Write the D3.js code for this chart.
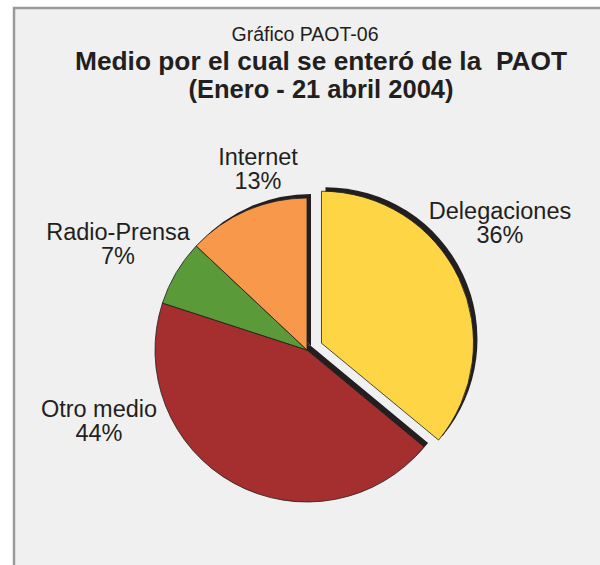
<!DOCTYPE html>
<html>
<head>
<meta charset="utf-8">
<script src="https://cdn.jsdelivr.net/npm/d3@7"></script>
<style>
  body { margin: 0; background: #fff; }
  text { font-family: "Liberation Sans", Arial, sans-serif; fill: #231f20; }
</style>
</head>
<body>
<div id="chart"></div>
<script>
// data
var categories = ["Delegaciones", "Otro medio", "Radio-Prensa", "Internet"];
var values = [36, 44, 7, 13];
var colors = ["#fdd545", "#a52e2e", "#5a9a38", "#f7984a"];
// label anchor points (centre x, baseline of first line)
var labelX = [500, 99, 118, 258];
var labelY = [219, 417, 240, 165];

var width = 600, height = 565;
var cx = 307, cy = 350, radius = 152;
var explode = 16;

var svg = d3.select("#chart").append("svg")
    .attr("width", width)
    .attr("height", height);

// panel
svg.append("rect")
    .attr("x", 14).attr("y", 8)
    .attr("width", width).attr("height", height)
    .attr("fill", "#f0f0f0")
    .attr("stroke", "#9a9a9a")
    .attr("stroke-width", 2.5);

// titles
svg.append("text")
    .attr("x", 305).attr("y", 41)
    .attr("text-anchor", "middle")
    .attr("font-size", "19.5px")
    .text("Gráfico PAOT-06");
svg.append("text")
    .attr("x", 321).attr("y", 70)
    .attr("text-anchor", "middle")
    .attr("font-size", "26.3px")
    .attr("font-weight", "bold")
    .style("white-space", "pre")
    .text("Medio por el cual se enteró de la  PAOT");
svg.append("text")
    .attr("x", 321).attr("y", 98)
    .attr("text-anchor", "middle")
    .attr("font-size", "25.5px")
    .attr("font-weight", "bold")
    .text("(Enero - 21 abril 2004)");

var data = categories.map(function(c, i) {
    return {name: c, value: values[i], color: colors[i], lx: labelX[i], ly: labelY[i]};
});

var pie = d3.pie()
    .sort(null)
    .value(function(d) { return d.value; });

var arc = d3.arc()
    .innerRadius(0)
    .outerRadius(radius);

var arcs = pie(data);

function offset(d, i) {
    if (i !== 0) return [0, 0];
    var a = (d.startAngle + d.endAngle) / 2;
    return [Math.sin(a) * explode, -Math.cos(a) * explode];
}

var g = svg.append("g")
    .attr("transform", "translate(" + cx + "," + cy + ")");

// dark shadow, shifted up-right
g.selectAll("path.shadow")
    .data(arcs)
    .enter().append("path")
    .attr("class", "shadow")
    .attr("d", arc)
    .attr("fill", "#231f20")
    .attr("transform", function(d, i) {
        var o = offset(d, i);
        return "translate(" + (o[0] + 4) + "," + (o[1] - 4) + ")";
    });

g.selectAll("path.slice")
    .data(arcs)
    .enter().append("path")
    .attr("class", "slice")
    .attr("d", arc)
    .attr("fill", function(d) { return d.data.color; })
    .attr("stroke", "#231f20")
    .attr("stroke-width", 0.8)
    .attr("stroke-linejoin", "round")
    .attr("transform", function(d, i) {
        var o = offset(d, i);
        return "translate(" + o[0] + "," + o[1] + ")";
    });

// labels
var labels = svg.selectAll("text.label")
    .data(data)
    .enter().append("text")
    .attr("class", "label")
    .attr("text-anchor", "middle")
    .attr("font-size", "23.5px");

labels.append("tspan")
    .attr("x", function(d) { return d.lx; })
    .attr("y", function(d) { return d.ly; })
    .text(function(d) { return d.name; });
labels.append("tspan")
    .attr("x", function(d) { return d.lx; })
    .attr("y", function(d) { return d.ly + 24; })
    .text(function(d) { return d.value + "%"; });
</script>
</body>
</html>
